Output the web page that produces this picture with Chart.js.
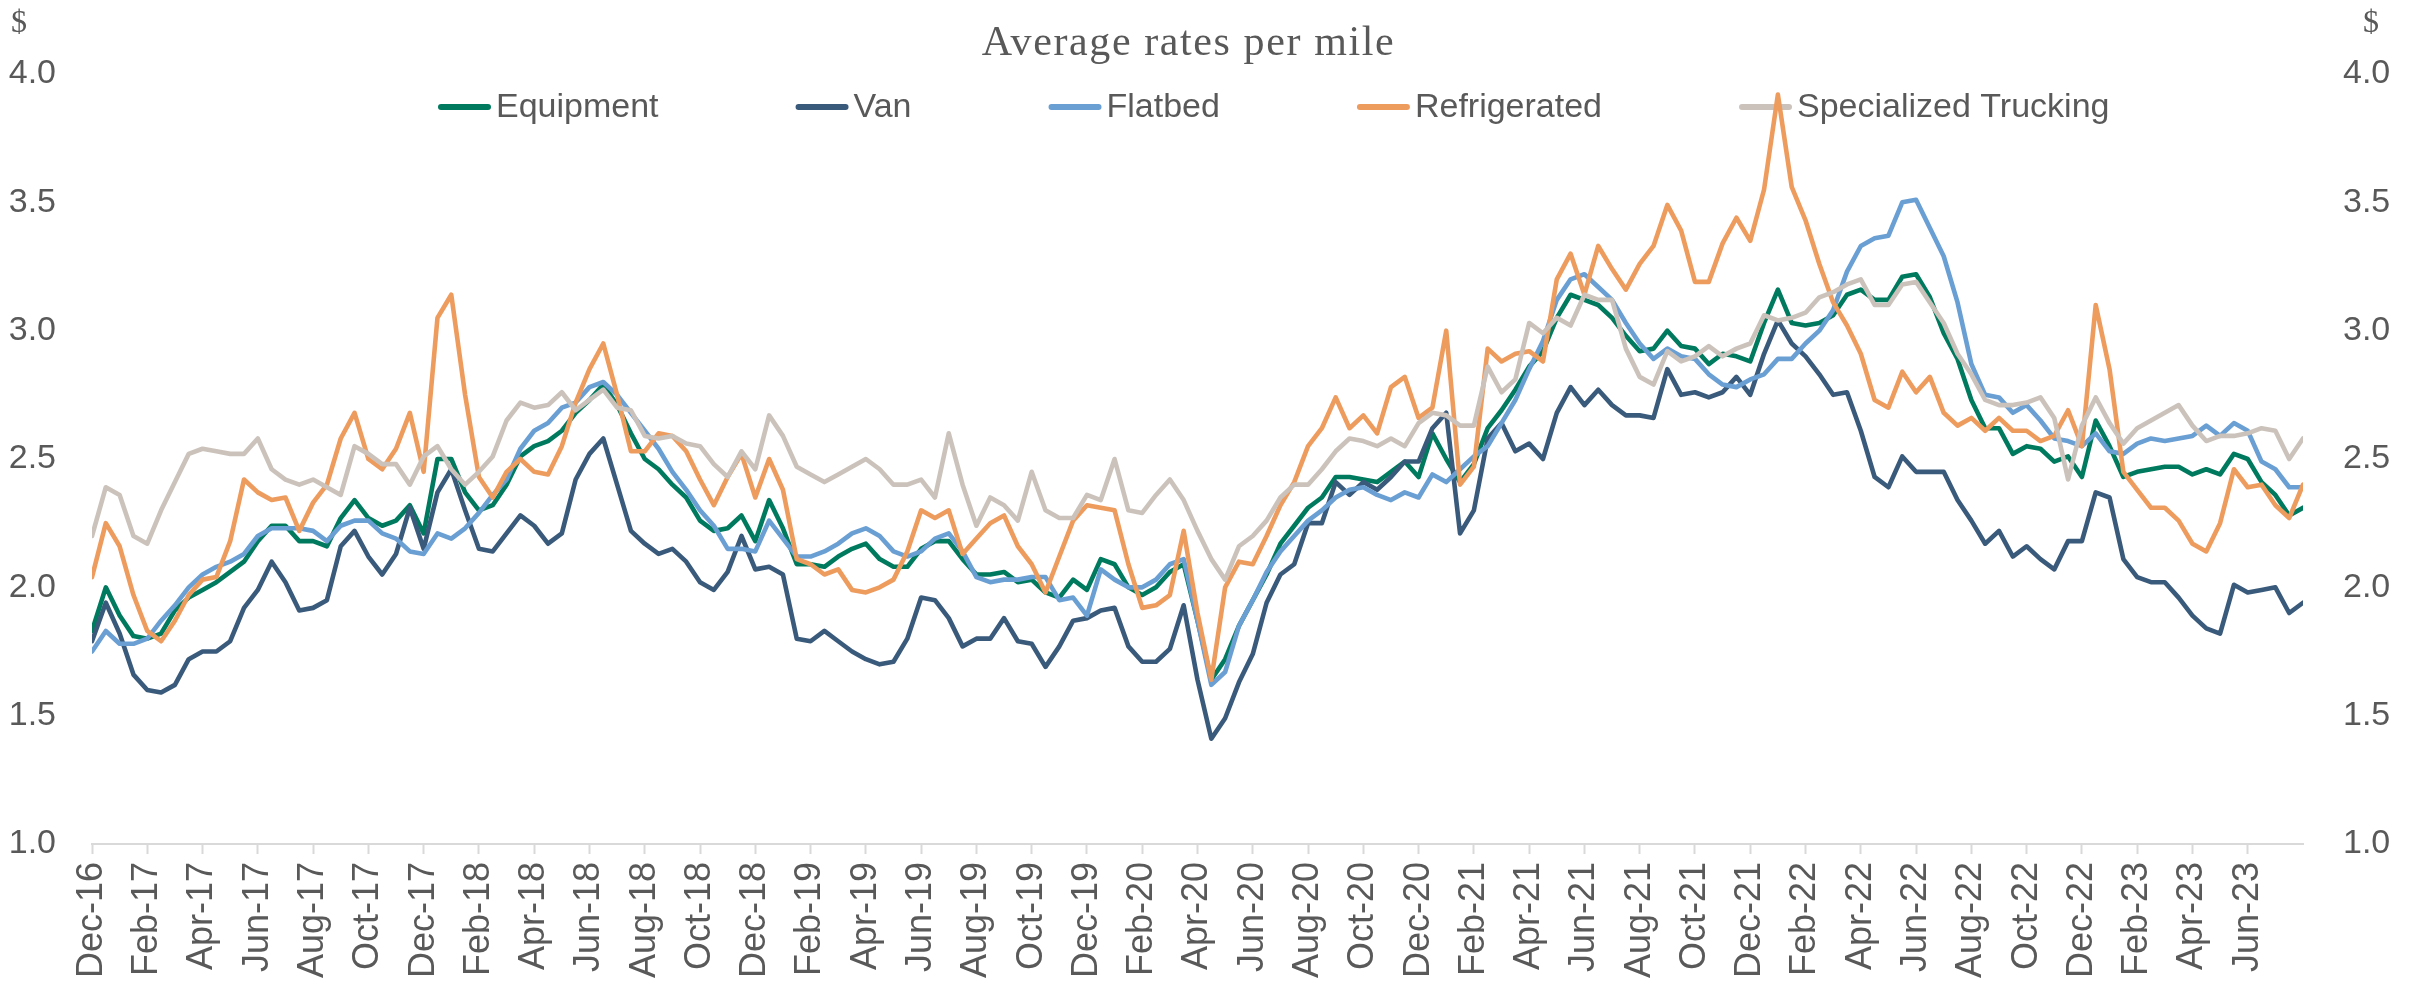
<!DOCTYPE html>
<html>
<head>
<meta charset="utf-8">
<title>Average rates per mile</title>
<script src="https://cdn.jsdelivr.net/npm/chart.js@4.4.1/dist/chart.umd.min.js"></script>
<style>
  html, body { margin: 0; padding: 0; background: #fff; }
  #wrap { width: 2414px; height: 982px; }
</style>
</head>
<body>
<div id="wrap"><canvas id="rates" width="2414" height="982" role="img" aria-label="Average rates per mile line chart"></canvas></div>
<script>
// ── Data (USD per mile, sampled twice a month from Dec-16) ───
const TITLE = 'Average rates per mile';
const UNIT  = '$';

const tickLabels = [
  'Dec-16','Feb-17','Apr-17','Jun-17','Aug-17','Oct-17','Dec-17','Feb-18','Apr-18','Jun-18',
  'Aug-18','Oct-18','Dec-18','Feb-19','Apr-19','Jun-19','Aug-19','Oct-19','Dec-19','Feb-20',
  'Apr-20','Jun-20','Aug-20','Oct-20','Dec-20','Feb-21','Apr-21','Jun-21','Aug-21','Oct-21',
  'Dec-21','Feb-22','Apr-22','Jun-22','Aug-22','Oct-22','Dec-22','Feb-23','Apr-23','Jun-23'
];

const equipment = [
  1.83, 2.00, 1.89, 1.81, 1.80, 1.82, 1.91, 1.96, 1.99, 2.02,
  2.06, 2.10, 2.18, 2.24, 2.24, 2.18, 2.18, 2.16, 2.27, 2.34,
  2.27, 2.24, 2.26, 2.32, 2.21, 2.50, 2.50, 2.37, 2.30, 2.32,
  2.40, 2.51, 2.55, 2.57, 2.61, 2.68, 2.73, 2.79, 2.71, 2.60,
  2.50, 2.46, 2.40, 2.35, 2.26, 2.22, 2.23, 2.28, 2.18, 2.34,
  2.23, 2.09, 2.09, 2.08, 2.12, 2.15, 2.17, 2.11, 2.08, 2.08,
  2.15, 2.18, 2.18, 2.11, 2.05, 2.05, 2.06, 2.02, 2.03, 1.98,
  1.96, 2.03, 1.99, 2.11, 2.09, 2.00, 1.97, 2.00, 2.06, 2.09,
  1.87, 1.64, 1.72, 1.85, 1.95, 2.05, 2.17, 2.24, 2.31, 2.35,
  2.43, 2.43, 2.42, 2.41, 2.45, 2.49, 2.43, 2.60, 2.50, 2.41,
  2.48, 2.62, 2.69, 2.77, 2.86, 2.92, 3.05, 3.14, 3.12, 3.10,
  3.05, 2.98, 2.92, 2.93, 3.00, 2.94, 2.93, 2.87, 2.91, 2.90,
  2.88, 3.03, 3.16, 3.03, 3.02, 3.03, 3.06, 3.14, 3.16, 3.12,
  3.12, 3.21, 3.22, 3.13, 2.99, 2.89, 2.73, 2.62, 2.62, 2.52,
  2.55, 2.54, 2.49, 2.51, 2.43, 2.65, 2.55, 2.43, 2.45, 2.46,
  2.47, 2.47, 2.44, 2.46, 2.44, 2.52, 2.50, 2.41, 2.36, 2.28,
  2.31
];

const van = [
  1.79, 1.94, 1.82, 1.66, 1.60, 1.59, 1.62, 1.72, 1.75, 1.75,
  1.79, 1.92, 1.99, 2.10, 2.02, 1.91, 1.92, 1.95, 2.16, 2.22,
  2.12, 2.05, 2.13, 2.31, 2.15, 2.37, 2.46, 2.30, 2.15, 2.14,
  2.21, 2.28, 2.24, 2.17, 2.21, 2.42, 2.52, 2.58, 2.40, 2.22,
  2.17, 2.13, 2.15, 2.10, 2.02, 1.99, 2.06, 2.20, 2.07, 2.08,
  2.05, 1.80, 1.79, 1.83, 1.79, 1.75, 1.72, 1.70, 1.71, 1.80,
  1.96, 1.95, 1.88, 1.77, 1.80, 1.80, 1.88, 1.79, 1.78, 1.69,
  1.77, 1.87, 1.88, 1.91, 1.92, 1.77, 1.71, 1.71, 1.76, 1.93,
  1.64, 1.41, 1.49, 1.63, 1.74, 1.94, 2.05, 2.09, 2.25, 2.25,
  2.41, 2.36, 2.41, 2.38, 2.43, 2.49, 2.49, 2.62, 2.68, 2.21,
  2.30, 2.58, 2.64, 2.53, 2.56, 2.50, 2.68, 2.78, 2.71, 2.77,
  2.71, 2.67, 2.67, 2.66, 2.85, 2.75, 2.76, 2.74, 2.76, 2.82,
  2.75, 2.91, 3.04, 2.95, 2.90, 2.83, 2.75, 2.76, 2.61, 2.43,
  2.39, 2.51, 2.45, 2.45, 2.45, 2.34, 2.26, 2.17, 2.22, 2.12,
  2.16, 2.11, 2.07, 2.18, 2.18, 2.37, 2.35, 2.11, 2.04, 2.02,
  2.02, 1.96, 1.89, 1.84, 1.82, 2.01, 1.98, 1.99, 2.00, 1.90,
  1.94
];

const flatbed = [
  1.75, 1.83, 1.78, 1.78, 1.80, 1.87, 1.93, 2.00, 2.05, 2.08,
  2.10, 2.13, 2.20, 2.23, 2.23, 2.23, 2.22, 2.18, 2.24, 2.26,
  2.26, 2.21, 2.19, 2.14, 2.13, 2.21, 2.19, 2.23, 2.29, 2.36,
  2.42, 2.54, 2.61, 2.64, 2.70, 2.72, 2.78, 2.80, 2.75, 2.68,
  2.61, 2.54, 2.45, 2.38, 2.30, 2.24, 2.15, 2.15, 2.14, 2.26,
  2.19, 2.12, 2.12, 2.14, 2.17, 2.21, 2.23, 2.20, 2.14, 2.12,
  2.14, 2.19, 2.21, 2.14, 2.04, 2.02, 2.03, 2.03, 2.04, 2.04,
  1.95, 1.96, 1.89, 2.07, 2.03, 2.00, 2.00, 2.03, 2.09, 2.11,
  1.87, 1.62, 1.67, 1.85, 1.95, 2.06, 2.14, 2.20, 2.26, 2.30,
  2.35, 2.38, 2.39, 2.36, 2.34, 2.37, 2.35, 2.44, 2.41, 2.46,
  2.51, 2.55, 2.64, 2.73, 2.85, 2.96, 3.12, 3.20, 3.22, 3.17,
  3.12, 3.03, 2.95, 2.89, 2.93, 2.90, 2.89, 2.83, 2.79, 2.78,
  2.81, 2.83, 2.89, 2.89, 2.95, 3.00, 3.08, 3.23, 3.33, 3.36,
  3.37, 3.50, 3.51, 3.40, 3.29, 3.11, 2.87, 2.75, 2.74, 2.68,
  2.71, 2.65, 2.58, 2.57, 2.55, 2.60, 2.53, 2.52, 2.56, 2.58,
  2.57, 2.58, 2.59, 2.63, 2.59, 2.64, 2.61, 2.49, 2.46, 2.39,
  2.39
];

const refrigerated = [
  2.04, 2.25, 2.16, 1.97, 1.83, 1.79, 1.87, 1.97, 2.03, 2.04,
  2.18, 2.42, 2.37, 2.34, 2.35, 2.22, 2.33, 2.40, 2.58, 2.68,
  2.50, 2.46, 2.54, 2.68, 2.45, 3.05, 3.14, 2.75, 2.43, 2.35,
  2.45, 2.50, 2.45, 2.44, 2.55, 2.72, 2.85, 2.95, 2.75, 2.53,
  2.53, 2.60, 2.59, 2.53, 2.42, 2.32, 2.43, 2.52, 2.35, 2.50,
  2.38, 2.11, 2.09, 2.05, 2.07, 1.99, 1.98, 2.00, 2.03, 2.14,
  2.30, 2.27, 2.30, 2.13, 2.19, 2.25, 2.28, 2.16, 2.09, 1.98,
  2.12, 2.26, 2.32, 2.31, 2.30, 2.09, 1.92, 1.93, 1.97, 2.22,
  1.90, 1.64, 2.00, 2.10, 2.09, 2.20, 2.32, 2.41, 2.55, 2.62,
  2.74, 2.62, 2.67, 2.60, 2.78, 2.82, 2.66, 2.70, 3.00, 2.40,
  2.47, 2.93, 2.88, 2.91, 2.92, 2.88, 3.20, 3.30, 3.14, 3.33,
  3.24, 3.16, 3.26, 3.33, 3.49, 3.39, 3.19, 3.19, 3.34, 3.44,
  3.35, 3.55, 3.92, 3.56, 3.43, 3.26, 3.11, 3.02, 2.91, 2.73,
  2.70, 2.84, 2.76, 2.82, 2.68, 2.63, 2.66, 2.61, 2.66, 2.61,
  2.61, 2.57, 2.59, 2.69, 2.55, 3.10, 2.85, 2.45, 2.38, 2.31,
  2.31, 2.26, 2.17, 2.14, 2.25, 2.46, 2.39, 2.40, 2.32, 2.27,
  2.40
];

const specialized = [
  2.20, 2.39, 2.36, 2.20, 2.17, 2.30, 2.41, 2.52, 2.54, 2.53,
  2.52, 2.52, 2.58, 2.46, 2.42, 2.40, 2.42, 2.39, 2.36, 2.55,
  2.52, 2.48, 2.48, 2.40, 2.51, 2.55, 2.46, 2.40, 2.45, 2.51,
  2.65, 2.72, 2.70, 2.71, 2.76, 2.69, 2.73, 2.77, 2.70, 2.69,
  2.59, 2.58, 2.59, 2.56, 2.55, 2.48, 2.43, 2.53, 2.46, 2.67,
  2.59, 2.47, 2.44, 2.41, 2.44, 2.47, 2.50, 2.46, 2.40, 2.40,
  2.42, 2.35, 2.60, 2.40, 2.24, 2.35, 2.32, 2.26, 2.45, 2.30,
  2.27, 2.27, 2.36, 2.34, 2.50, 2.30, 2.29, 2.36, 2.42, 2.34,
  2.22, 2.11, 2.03, 2.16, 2.20, 2.26, 2.35, 2.40, 2.40, 2.46,
  2.53, 2.58, 2.57, 2.55, 2.58, 2.55, 2.64, 2.68, 2.67, 2.63,
  2.63, 2.86, 2.76, 2.81, 3.03, 2.99, 3.05, 3.02, 3.14, 3.12,
  3.12, 2.93, 2.82, 2.79, 2.92, 2.88, 2.90, 2.94, 2.90, 2.93,
  2.95, 3.06, 3.04, 3.05, 3.07, 3.13, 3.15, 3.18, 3.20, 3.10,
  3.10, 3.18, 3.19, 3.11, 3.03, 2.91, 2.83, 2.73, 2.71, 2.71,
  2.72, 2.74, 2.66, 2.42, 2.63, 2.74, 2.64, 2.56, 2.62, 2.65,
  2.68, 2.71, 2.63, 2.57, 2.59, 2.59, 2.60, 2.62, 2.61, 2.50,
  2.58
];

const SERIES = [
  { label: 'Equipment',            data: equipment,    color: '#007A5E' },
  { label: 'Van',                  data: van,          color: '#3A5A7C' },
  { label: 'Flatbed',              data: flatbed,      color: '#6A9FD4' },
  { label: 'Refrigerated',         data: refrigerated, color: '#EE9B5E' },
  { label: 'Specialized Trucking', data: specialized,  color: '#CBC3BB' },
];

// samples are half a month apart, x is in months since Dec-16
const STEP = 0.5;
const toPoints = arr => arr.map((v, i) => ({ x: i * STEP, y: v }));

const TEXT = '#595959';
const AXIS = '#D9D9D9';

// ── Title, units and legend drawn on the canvas ──────────────
const extras = {
  id: 'extras',
  beforeDatasetsDraw(chart) {
    const { ctx, chartArea } = chart;
    ctx.save();
    ctx.fillStyle = TEXT;
    ctx.textBaseline = 'middle';

    ctx.font = '42px "Liberation Serif", "Times New Roman", serif';
    ctx.textAlign = 'center';
    ctx.letterSpacing = '1.6px';
    ctx.fillText(TITLE, (chartArea.left + chartArea.right) / 2 - 9, 44);
    ctx.letterSpacing = '0px';

    ctx.font = '32px "Liberation Serif", "Times New Roman", serif';
    ctx.fillText(UNIT, 19, 24);
    ctx.fillText(UNIT, 2371, 24);

    // legend: short line then label, fixed gap between items
    ctx.font = '34px "Liberation Sans", Arial, sans-serif';
    ctx.textAlign = 'left';
    let x = chartArea.left + 346;
    const y = 107;
    chart.data.datasets.forEach(ds => {
      ctx.strokeStyle = ds.borderColor;
      ctx.lineWidth = 6;
      ctx.lineCap = 'round';
      ctx.beginPath();
      ctx.moveTo(x + 3, y);
      ctx.lineTo(x + 50, y);
      ctx.stroke();
      ctx.fillText(ds.label, x + 58, y + 1);
      x += 58 + ctx.measureText(ds.label).width + 137;
    });
    ctx.restore();
  }
};

// ── Chart ─────────────────────────────────────────────────────
const tickFont  = { family: '"Liberation Sans", Arial, sans-serif', size: 34 };
const dateFont  = { family: '"Liberation Sans", Arial, sans-serif', size: 36 };

new Chart(document.getElementById('rates'), {
  type: 'line',
  data: {
    datasets: SERIES.map((s, i) => ({
      label: s.label,
      data: toPoints(s.data),
      borderColor: s.color,
      backgroundColor: s.color,
      borderWidth: 4.6,
      borderJoinStyle: 'round',
      borderCapStyle: 'round',
      pointRadius: 0,
      tension: 0,
      order: SERIES.length - i,   // later series drawn on top
    }))
  },
  options: {
    responsive: false,
    animation: false,
    devicePixelRatio: 1,
    events: [],
    layout: { padding: { top: 74, left: 0, right: 0, bottom: 0 } },
    plugins: {
      legend: { display: false },
      title: { display: false },
      tooltip: { enabled: false },
    },
    scales: {
      x: {
        type: 'linear',
        min: 0,
        max: 80,
        afterFit: s => { s.height = 138; },
        afterBuildTicks: s => { s.ticks = s.ticks.filter(t => t.value / 2 < tickLabels.length); },
        grid: {
          drawOnChartArea: false,
          drawTicks: true,
          tickLength: 10,
          tickColor: AXIS,
          tickWidth: 2,
        },
        border: { display: true, color: AXIS, width: 2 },
        ticks: {
          stepSize: 2,
          autoSkip: false,
          includeBounds: false,
          minRotation: 90,
          maxRotation: 90,
          padding: 8,
          color: TEXT,
          font: dateFont,
          callback: v => tickLabels[v / 2],
        },
      },
      y: {
        position: 'left',
        min: 1,
        max: 4,
        afterFit: s => { s.width = 92; },
        grid: { display: false, drawTicks: false },
        border: { display: false },
        ticks: { stepSize: 0.5, padding: 36, color: TEXT, font: tickFont, callback: v => v.toFixed(1) },
      },
      y2: {
        position: 'right',
        min: 1,
        max: 4,
        afterFit: s => { s.width = 111; },
        grid: { display: false, drawTicks: false },
        border: { display: false },
        ticks: { stepSize: 0.5, padding: 40, color: TEXT, font: tickFont, callback: v => v.toFixed(1) },
      },
    },
  },
  plugins: [extras],
});
</script>
</body>
</html>
